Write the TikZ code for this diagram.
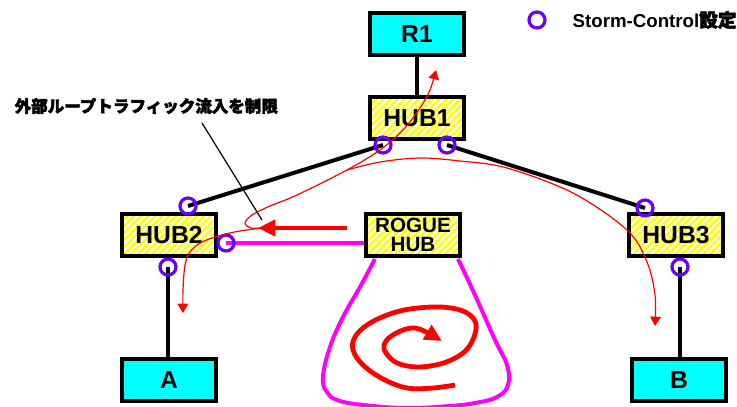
\documentclass[tikz,border=0pt]{standalone}
\usepackage{fontspec}
\setmainfont{Liberation Sans}
\newfontfamily\jpfont{Noto Sans CJK JP}[BoldFeatures={FakeBold=2.5}]
\usetikzlibrary{positioning,calc,arrows.meta,patterns.meta}
\definecolor{scviolet}{RGB}{102,0,255}
\definecolor{termcyan}{RGB}{0,255,255}
\definecolor{roguepink}{RGB}{255,0,255}
\definecolor{hatchyellow}{RGB}{255,255,0}
\definecolor{flowred}{RGB}{255,0,0}
\tikzset{
box/.style={draw=black,line width=3pt,minimum width=71pt,minimum height=32pt,inner sep=0pt,font=\fontsize{18.5}{20}\selectfont\bfseries},
hub/.style={box,pattern={Lines[angle=45,distance=3.7pt,line width=1.9pt]},pattern color=hatchyellow},
term/.style={box,fill=termcyan},
roguebox/.style={hub,align=center,font=\fontsize{15.5}{14}\selectfont\bfseries},
scmark/.style={circle,draw=scviolet,line width=2.4pt,minimum size=12pt,inner sep=0pt},
link/.style={line width=3pt,black},
rogueline/.style={line width=3pt,roguepink},
leader/.style={line width=0.9pt,black},
flowarrow/.style={flowred,line width=0.9pt,-{Triangle[length=7pt,width=8pt]}},
burst/.style={flowred,line width=3.6pt,-{Triangle[length=13pt,width=12pt]}},
note/.style={font=\jpfont\bfseries\fontsize{12.4}{14}\selectfont},
legend/.style={font=\fontsize{14}{16}\selectfont\bfseries}
}

\begin{document}
\begin{tikzpicture}[x=0.75pt,y=-0.75pt]
\useasboundingbox (0,0) rectangle (737,406);
% devices
\node[term] (R1) at (417,34) {R1};
\node[hub] (HUB1) at (417,118) {HUB1};
\node[hub] (HUB2) at (169,235) {HUB2};
\node[roguebox] (RH) at (413,235) {ROGUE\\HUB};
\node[hub] (HUB3) at (676,235) {HUB3};
\node[term] (A) at (169,380) {A};
\node[term] (B) at (679,380) {B};
% storm-control ports
\coordinate (p1) at (383,145);
\coordinate (p2) at (447,145);
\coordinate (p3) at (188,206);
\coordinate (p4) at (226,243);
\coordinate (p5) at (168,267);
\coordinate (p6) at (645,208);
\coordinate (p7) at (680,267);
% cabling
\draw[link] (R1) -- (HUB1);
\draw[link] (p1) -- (p3);
\draw[link] (p2) -- (p6);
\draw[link] (p5) -- (p5 |- A.north);
\draw[link] (p7) -- (p7 |- B.north);
\draw[rogueline] (p4) -- (p4 -| RH.west);
\draw[rogueline] plot[smooth,tension=0.7] coordinates {(375,259) (360,287) (343,317) (330,347) (323,377) (327,392) (340,401) (373,406) (410,408) (450,406) (475,403) (497,397) (508,385) (507,365) (495,340) (475,295) (458,259)};
\foreach \i in {1,...,7}
  \node[scmark] (m\i) at (p\i) {};
% legend and note
\node[scmark] (key) at (537,20) {};
\node[legend,anchor=west] (keytext) at (568,20) {Storm-Control{\jpfont\bfseries 設定}};
\node[note,anchor=west] (lbl) at (10,106) {外部ループトラフィック流入を制限};
\coordinate (from) at (202,123);
\coordinate (tip) at (262,220);
\draw[leader] (from) -- (tip);
% loop traffic
\coordinate (src) at (347,228);
\coordinate (hit) at (258,228);
\draw[burst] (src) -- (hit);
\draw[flowarrow] plot[smooth,tension=0.55] coordinates {(262,228) (251,228) (245,223) (252,215) (270,206) (297,195) (347,170) (380,150) (403,130) (420,108) (430,90) (436,70)};
\draw[flowarrow] plot[smooth,tension=0.55] coordinates {(262,228) (240,231) (222,235) (202,242) (190,252) (185,265) (183,290) (183,313)};
\draw[flowarrow] plot[smooth,tension=0.55] coordinates {(347,170) (380,162) (420,158) (460,161) (507,168) (573,193) (627,230) (647,262) (655,295) (655,326)};
\draw[burst] plot[smooth,tension=0.6] coordinates {(455,385) (433,388) (407,388) (383,379) (363,365) (353,350) (355,337) (367,325) (387,315) (410,309) (440,307) (463,311) (475,321) (475,334) (468,348) (457,357) (440,364) (417,367) (397,363) (386,353) (384,345) (390,337) (403,330) (415,328) (426,332) (442,341)};
\end{tikzpicture}
\end{document}
